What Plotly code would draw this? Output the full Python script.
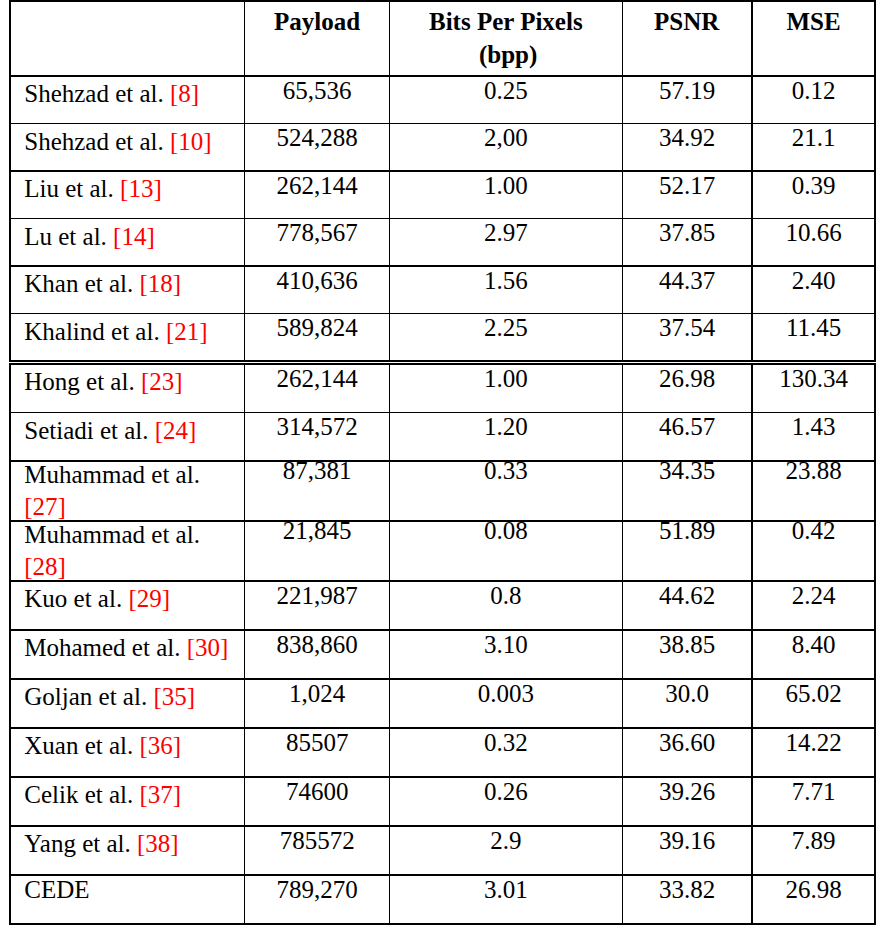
import plotly.graph_objects as go

# ---- data ----
methods = ["Shehzad et al.", "Shehzad et al.", "Liu et al.", "Lu et al.", "Khan et al.",
           "Khalind et al.", "Hong et al.", "Setiadi et al.", "Muhammad et al.",
           "Muhammad et al.", "Kuo et al.", "Mohamed et al.", "Goljan et al.",
           "Xuan et al.", "Celik et al.", "Yang et al.", "CEDE"]
refs = ["8", "10", "13", "14", "18", "21", "23", "24", "27", "28", "29", "30",
        "35", "36", "37", "38", ""]
payload = ["65,536", "524,288", "262,144", "778,567", "410,636", "589,824", "262,144",
           "314,572", "87,381", "21,845", "221,987", "838,860", "1,024", "85507",
           "74600", "785572", "789,270"]
bpp = ["0.25", "2,00", "1.00", "2.97", "1.56", "2.25", "1.00", "1.20", "0.33", "0.08",
       "0.8", "3.10", "0.003", "0.32", "0.26", "2.9", "3.01"]
psnr = ["57.19", "34.92", "52.17", "37.85", "44.37", "37.54", "26.98", "46.57", "34.35",
        "51.89", "44.62", "38.85", "30.0", "36.60", "39.26", "39.16", "33.82"]
mse = ["0.12", "21.1", "0.39", "10.66", "2.40", "11.45", "130.34", "1.43", "23.88",
       "0.42", "2.24", "8.40", "65.02", "14.22", "7.71", "7.89", "26.98"]
headers = ["", "Payload", ["Bits Per Pixels", "(bpp)"], "PSNR", "MSE"]
two_line = {"Muhammad et al."}

# ---- layout / styling (pixel geometry of the ruled grid) ----
W, H = 892, 934
FONT = "Liberation Serif"
FS = 25
colwidth = [235, 145, 233, 130, 123]
x0, x1 = 10, 876
LW = 1.3
TOP, HEADER_H = 1, 75
EMPTY_HEADER = 16                  # plotly's height for a table without header
# row blocks: (first row, last row + 1, top pixel, row height, text lift)
blocks = [(0, 6, 76, 47.5, 4), (6, 8, 364, 48.5, 4), (8, 10, 461, 60, 8.5),
          (10, 17, 581, 49, 4)]
NB = "\u00a0"
INDENT = NB
BPP_PAD = NB * 8


def label(m, r):
    if not r:
        return INDENT + m
    sep = "<br>" + INDENT if m in two_line else " "
    return f"{INDENT}{m}{sep}<a href='#'style='color:red'>[{r}]</a>"


def head(h):
    if not h:
        return ""
    if isinstance(h, list):
        return f"<b>{h[0]}<br>{BPP_PAD}{h[1]}</b>"
    return f"<b>{h}</b>"


labels = [label(m, r) for m, r in zip(methods, refs)]
cols = [labels, payload, bpp, psnr, mse]
aligns = ["left", "center", "center", "center", "center"]
font = dict(family=FONT, size=FS, color="black")
clear = "rgba(0,0,0,0)"
dom_x = [x0 / W, x1 / W]


def dom_y(top_px):
    return [0, min(1.0, 1 - top_px / H)]


fig = go.Figure()

# --- ruled grid (borders only) ---
fig.add_trace(go.Table(
    domain=dict(x=dom_x, y=dom_y(TOP)), columnwidth=colwidth,
    header=dict(values=[""] * len(headers), height=HEADER_H, fill_color="white",
                line=dict(color="black", width=LW)),
    cells=dict(values=[[""] * 6 for _ in cols], height=blocks[0][3],
               fill_color="white", line=dict(color="black", width=LW)),
))
for a, b, top, rh, _ in blocks[1:]:
    fig.add_trace(go.Table(
        domain=dict(x=dom_x, y=dom_y(top - EMPTY_HEADER)), columnwidth=colwidth,
        header=dict(values=[], fill_color=clear, line=dict(width=0)),
        cells=dict(values=[[""] * (b - a) for _ in cols], height=rh,
                   fill_color="white", line=dict(color="black", width=LW)),
    ))

# --- text layers (transparent, no borders) ---
fig.add_trace(go.Table(
    domain=dict(x=dom_x, y=dom_y(0)), columnwidth=colwidth,
    header=dict(values=[head(h) for h in headers], height=HEADER_H, align="center",
                fill_color=clear, line=dict(width=0), font=font),
    cells=dict(values=[[""] for _ in cols], height=20, fill_color=clear,
               line=dict(width=0)),
))
for a, b, top, rh, lift in blocks:
    if any(methods[i] in two_line for i in range(a, b)):
        parts = [(i, i + 1, top + (i - a) * rh) for i in range(a, b)]
    else:
        parts = [(a, b, top)]
    for pa, pb, ptop in parts:
        fig.add_trace(go.Table(
            domain=dict(x=dom_x, y=dom_y(ptop - EMPTY_HEADER - lift)),
            columnwidth=colwidth,
            header=dict(values=[], fill_color=clear, line=dict(width=0)),
            cells=dict(values=[c[pa:pb] for c in cols], height=rh, align=aligns,
                       fill_color=clear, line=dict(width=0), font=font),
        ))

fig.update_layout(width=W, height=H, margin=dict(l=0, r=0, t=0, b=0),
                  paper_bgcolor="white", plot_bgcolor="white")
fig.write_html("out.html", config={"displayModeBar": False},
               post_script="document.body.style.margin='0';")
